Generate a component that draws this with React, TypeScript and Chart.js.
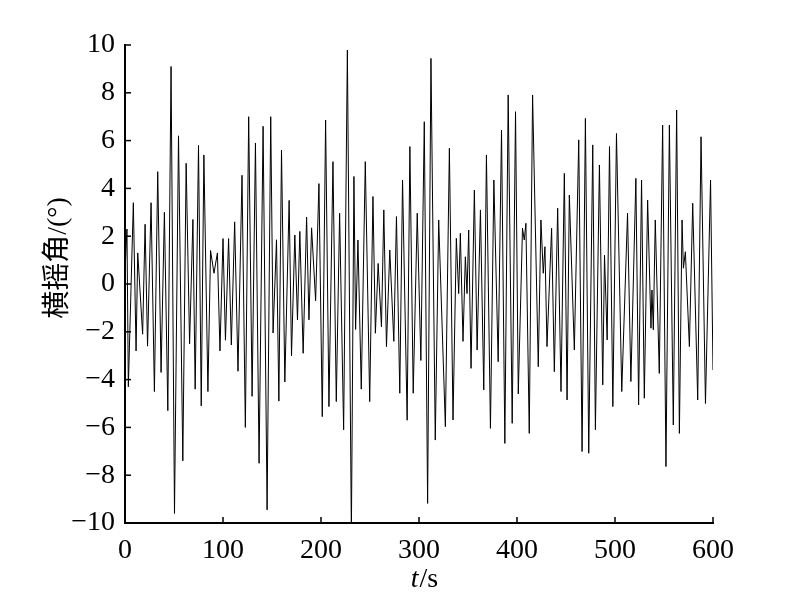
import React, { useEffect, useRef } from 'react';
import { Chart, registerables } from 'chart.js';

Chart.register(...registerables);

// Roll angle record (time s, angle °)
const seg1T = [0, 2, 3.4, 8.5, 11.3, 13, 18, 20.5, 23, 26.6, 30, 33.4, 36.8, 40.2, 43.7, 47, 50.5, 54.6, 59, 62.4, 65.9, 69.3, 71.6, 75, 77.8, 80.5, 84.6, 87.3, 90.8, 94.3, 96.9];
const seg1V = [0.5, 2.3, -4.3, 3.4, -2.8, 1.3, -2.1, 2.5, -2.6, 3.4, -4.5, 4.7, -3.7, 3.0, -5.3, 9.1, -9.6, 6.2, -7.4, 5.05, -2.5, 2.7, -4.4, 5.8, -5.1, 5.4, -4.5, 1.4, 0.45, 1.3, -2.8];

const seg2T = [100, 102.5, 105.7, 108.5, 111.9, 115.3, 119.4, 122.8, 126.2, 129.7, 133.1, 136.8, 140.9, 145, 148.7, 151.1, 154.6, 157, 159.7, 163.1, 167.5, 169.9, 173.3, 176, 178.4, 181.8, 185.3, 187.7, 190.4, 194.5, 197.9];
const seg2V = [1.9, -2.35, 1.9, -2.55, 2.6, -3.65, 4.55, -6.0, 7.0, -4.7, 5.9, -7.5, 6.6, -9.45, 7.0, -2.05, 1.85, -4.9, 5.6, -4.1, 3.5, -3.0, 2.05, -1.5, 2.2, -2.9, 2.8, -1.5, 2.35, -0.7, 4.2];

const seg3T = [201.3, 204.7, 208.1, 212.2, 215.6, 219, 223.1, 226.9, 231, 233.6, 235.3, 237.7, 241.1, 245.2, 249.7, 253, 255.5, 258.3, 261.7, 264.1, 266.8, 270.2, 274.3, 277, 280.4, 283.2, 287.9, 290.7, 294.1, 298.2];
const seg3V = [-5.55, 6.86, -5.13, 5.12, -4.92, 2.96, -6.1, 9.79, -10.4, 4.5, -1.9, 1.84, -4.4, 5.12, -4.92, 3.66, -2.06, 0.86, -1.79, 3.1, -2.62, 1.42, -2.4, 2.82, -4.57, 4.35, -5.7, 5.75, -4.57, 2.96];

const seg4T = [301.9, 305.4, 308.8, 312.2, 316.6, 320.1, 326.9, 331, 334.7, 338.1, 340.5, 342.2, 344.9, 347.3, 349, 350.7, 353.1, 356.5, 359.3, 362.7, 366.1, 368.8, 372.9, 376.4, 380.8, 384.2, 387.6, 391, 395.1, 398.5];
const seg4V = [-3.2, 6.79, -9.18, 9.44, -6.53, 2.68, -5.97, 5.68, -5.69, 1.91, -0.4, 2.12, -2.4, 1.14, -0.4, 2.26, -3.53, 3.93, -2.76, 3.1, -4.43, 5.4, -6.04, 4.35, -3.25, 6.44, -6.67, 7.91, -5.83, 7.21];

const seg5T = [401.3, 405.6, 407.4, 409.1, 412.5, 415.9, 421.7, 424.4, 426.8, 428.5, 430.6, 435.3, 438.1, 441.5, 444.9, 448.3, 451.1, 453.4, 458.5, 463, 466.4, 469.8, 473.2, 477.3, 480, 484.1, 487.5, 489.3, 492, 494.4, 497.8];
const seg5V = [-4.6, 2.33, 1.84, 2.54, -6.25, 7.91, -3.46, 2.68, 0.45, 1.56, -2.62, 2.33, -3.67, 3.17, -4.5, 4.63, -4.85, 3.72, -2.76, 6.03, -7.01, 6.93, -7.08, 5.82, -6.1, 4.98, -4.22, 1.21, -2.34, 5.75, -5.13];

const seg6T = [501.5, 506.9, 512.8, 516.2, 521.3, 524.1, 527.1, 529.9, 533.3, 536.7, 537.7, 539.1, 541.1, 545.2, 548.6, 552, 555.5, 559.5, 562.9, 565.7, 568.4, 569.8, 571.8, 575.9, 579.3, 584.4, 587.8, 592.3, 597.5, 600];
const seg6V = [6.3, -4.5, 2.96, -4.08, 4.42, -5.06, 4.35, -4.78, 3.51, -1.85, -0.25, -1.92, 2.68, -3.74, 6.65, -7.64, 6.65, -5.9, 7.28, -6.25, 2.68, 0.66, 1.35, -2.62, 3.38, -4.85, 6.16, -5.0, 4.35, -3.6];

const xTickValues = [0, 100, 200, 300, 400, 500, 600];
const yTickValues = [-10, -8, -6, -4, -2, 0, 2, 4, 6, 8, 10];
const yTitleText = '横摇角/(°)';
const xTitleItalic = 't';
const xTitleRest = '/s';

const SERIF = '"Liberation Serif", "Times New Roman", serif';

export default function App() {
  const ref = useRef<HTMLCanvasElement>(null);

  useEffect(() => {
    if (!ref.current) return;
    const T = [...seg1T, ...seg2T, ...seg3T, ...seg4T, ...seg5T, ...seg6T];
    const V = [...seg1V, ...seg2V, ...seg3V, ...seg4V, ...seg5V, ...seg6V];
    const points = T.map((t, i) => ({ x: t, y: V[i] }));

    const inwardTicks = {
      id: 'inwardTicks',
      afterDraw(chart: any) {
        const { ctx, chartArea, scales } = chart;
        ctx.save();
        ctx.strokeStyle = '#000';
        ctx.lineWidth = 1.5;
        for (const v of xTickValues) {
          const px = scales.x.getPixelForValue(v);
          ctx.beginPath();
          ctx.moveTo(px, chartArea.bottom);
          ctx.lineTo(px, chartArea.bottom - 6);
          ctx.stroke();
        }
        for (const v of yTickValues) {
          const py = scales.y.getPixelForValue(v);
          ctx.beginPath();
          ctx.moveTo(chartArea.left, py);
          ctx.lineTo(chartArea.left + 6, py);
          ctx.stroke();
        }
        ctx.restore();
      },
    };

    const axisTitles = {
      id: 'axisTitles',
      afterDraw(chart: any) {
        const { ctx, chartArea } = chart;
        ctx.save();
        ctx.fillStyle = '#000';
        ctx.font = `28px ${SERIF}, "Noto Sans CJK SC"`;
        ctx.textAlign = 'center';
        ctx.textBaseline = 'middle';
        ctx.translate(chartArea.left - 66, (chartArea.top + chartArea.bottom) / 2 - 26);
        ctx.rotate(-Math.PI / 2);
        ctx.fillText(yTitleText, 0, 0);
        ctx.restore();
        ctx.save();
        ctx.fillStyle = '#000';
        ctx.textBaseline = 'middle';
        ctx.textAlign = 'left';
        ctx.font = `italic 28px ${SERIF}`;
        const w1 = ctx.measureText(xTitleItalic).width;
        ctx.font = `28px ${SERIF}`;
        const w2 = ctx.measureText(xTitleRest).width;
        const cx = (chartArea.left + chartArea.right) / 2 + 5;
        const cy = chartArea.bottom + 57;
        const x0 = cx - (w1 + w2) / 2;
        ctx.font = `italic 28px ${SERIF}`;
        ctx.fillText(xTitleItalic, x0, cy);
        ctx.font = `28px ${SERIF}`;
        ctx.fillText(xTitleRest, x0 + w1 + 1, cy);
        ctx.restore();
      },
    };

    const chart = new Chart(ref.current, {
      type: 'line',
      data: {
        datasets: [
          {
            data: points,
            borderColor: '#000',
            borderWidth: 1,
            pointRadius: 0,
            fill: false,
            tension: 0,
          },
        ],
      },
      options: {
        responsive: false,
        animation: false,
        parsing: true,
        layout: { padding: { left: 0, top: 45, right: 87, bottom: 0 } },
        plugins: { legend: { display: false }, tooltip: { enabled: false } },
        scales: {
          x: {
            type: 'linear',
            min: 0,
            max: 600,
            afterBuildTicks: (s: any) => {
              s.ticks = xTickValues.map((v) => ({ value: v }));
            },
            afterFit: (s: any) => {
              s.height = 76;
            },
            ticks: {
              font: { family: SERIF, size: 28 },
              color: '#000',
              padding: 11,
              maxRotation: 0,
              autoSkip: false,
            },
            grid: { display: false, drawTicks: false },
            border: { display: true, color: '#000', width: 2 },
          },
          y: {
            type: 'linear',
            min: -10,
            max: 10,
            afterBuildTicks: (s: any) => {
              s.ticks = yTickValues.map((v) => ({ value: v }));
            },
            afterFit: (s: any) => {
              s.width = 125;
            },
            ticks: {
              font: { family: SERIF, size: 28 },
              color: '#000',
              padding: 10,
              autoSkip: false,
              callback: (v: any) => String(v).replace('-', '\u2212'),
            },
            grid: { display: false, drawTicks: false },
            border: { display: true, color: '#000', width: 2 },
          },
        },
      },
      plugins: [inwardTicks, axisTitles],
    });
    return () => chart.destroy();
  }, []);

  return (
    <div style={{ position: 'fixed', left: 0, top: 0, width: 800, height: 599, background: '#fff' }}>
      <canvas ref={ref} width={800} height={599} style={{ display: 'block' }} />
    </div>
  );
}
